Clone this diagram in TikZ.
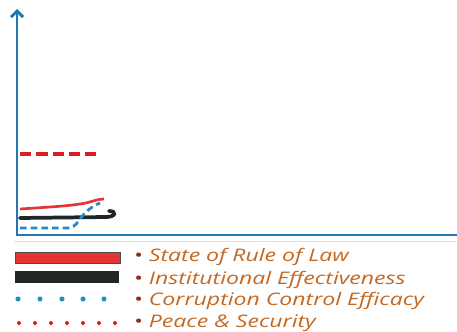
\documentclass[tikz,border=0pt]{standalone}
\usepackage{amsmath}
\usepackage{amssymb}
\usepackage{fontspec}
\usepackage{tikz}
\usetikzlibrary{arrows.meta}
\newfontfamily\legendfont{Open Sans}[FakeStretch=1.33]

\definecolor{axisblue}{RGB}{36,118,178}
\definecolor{lawred}{RGB}{228,52,52}
\definecolor{effblack}{RGB}{32,38,38}
\definecolor{corrblue}{RGB}{38,140,200}
\definecolor{peacered}{RGB}{220,30,30}
\definecolor{legtext}{RGB}{196,104,32}
\definecolor{legbullet}{RGB}{150,46,22}

\begin{document}
\begin{tikzpicture}[x=0.75pt,y=0.75pt,yscale=-1,xscale=1]
%set diagram left start at 0, and has height of 332
\useasboundingbox (0,0) rectangle (457,332);

%Straight Lines [id:axis_y] 
\draw [color=axisblue, line width=2.2pt, -{Straight Barb[length=4.5pt,width=9pt]}]  (17,235) -- (17,9) ;
%Straight Lines [id:axis_x] 
\draw [color=axisblue, line width=2.2pt]  (16,235) -- (457,235) ;
%Straight Lines [id:sep] 
\draw [color=black!12, line width=0.6pt]  (14,241) -- (457,241) ;

%Straight Lines [id:peace_level] 
\draw [color=peacered, line width=2.6pt, dash pattern={on 8.5pt off 3.7pt}]  (20,154) -- (98,154) ;
%Curve Lines [id:law_curve] 
\draw [color=lawred, line width=2pt]  (20,209) .. controls (50,207) and (70,206) .. (86,203) .. controls (94,201) and (98,199) .. (104,199) ;
%Curve Lines [id:eff_curve] 
\draw [color=effblack, line width=2.8pt, line cap=round]  (20,218) -- (106,217) .. controls (116,217) and (117,211) .. (109,211) ;
%Curve Lines [id:corr_curve] 
\draw [color=corrblue, line width=2.1pt, dash pattern={on 5pt off 3pt}]  (20,228) -- (68,228) .. controls (76,228) and (79,219) .. (85,213) .. controls (90,208) and (95,205) .. (100,203) ;

%Shape: Rectangle [id:leg_law] 
\draw [color=black!70, fill=lawred, line width=0.6pt]  (15,252) -- (120,252) -- (120,263) -- (15,263) -- cycle ;
%Shape: Rectangle [id:leg_eff] 
\draw [color=effblack, fill=effblack, line width=0.6pt]  (15,271) -- (118,271) -- (118,282) -- (15,282) -- cycle ;
%Shape: Circles [id:leg_corr] 
\foreach \dx in {18,40,62,83,104} {
  \fill [color=corrblue] (\dx,299) circle (1.9pt) ;
}
%Shape: Circles [id:leg_peace] 
\foreach \dx in {19,35,51,67,83,99,115} {
  \fill [color=peacered] (\dx,323) circle (1.5pt) ;
}

% Text Node
\draw (133,261) node (lawtxt) [anchor=base west][inner sep=0.75pt]   [align=left] {\legendfont\fontsize{13}{15}\selectfont\textcolor{legbullet}{•}\ \textit{\color{legtext}State of Rule of Law}};
% Text Node
\draw (133,284) node (efftxt) [anchor=base west][inner sep=0.75pt]   [align=left] {\legendfont\fontsize{13}{15}\selectfont\textcolor{legbullet}{•}\ \textit{\color{legtext}Institutional Effectiveness}};
% Text Node
\draw (133,305) node (corrtxt) [anchor=base west][inner sep=0.75pt]   [align=left] {\legendfont\fontsize{13}{15}\selectfont\textcolor{legbullet}{•}\ \textit{\color{legtext}Corruption Control Efficacy}};
% Text Node
\draw (133,327) node (peacetxt) [anchor=base west][inner sep=0.75pt]   [align=left] {\legendfont\fontsize{13}{15}\selectfont\textcolor{legbullet}{•}\ \textit{\color{legtext}Peace \& Security}};

\end{tikzpicture}
\end{document}
